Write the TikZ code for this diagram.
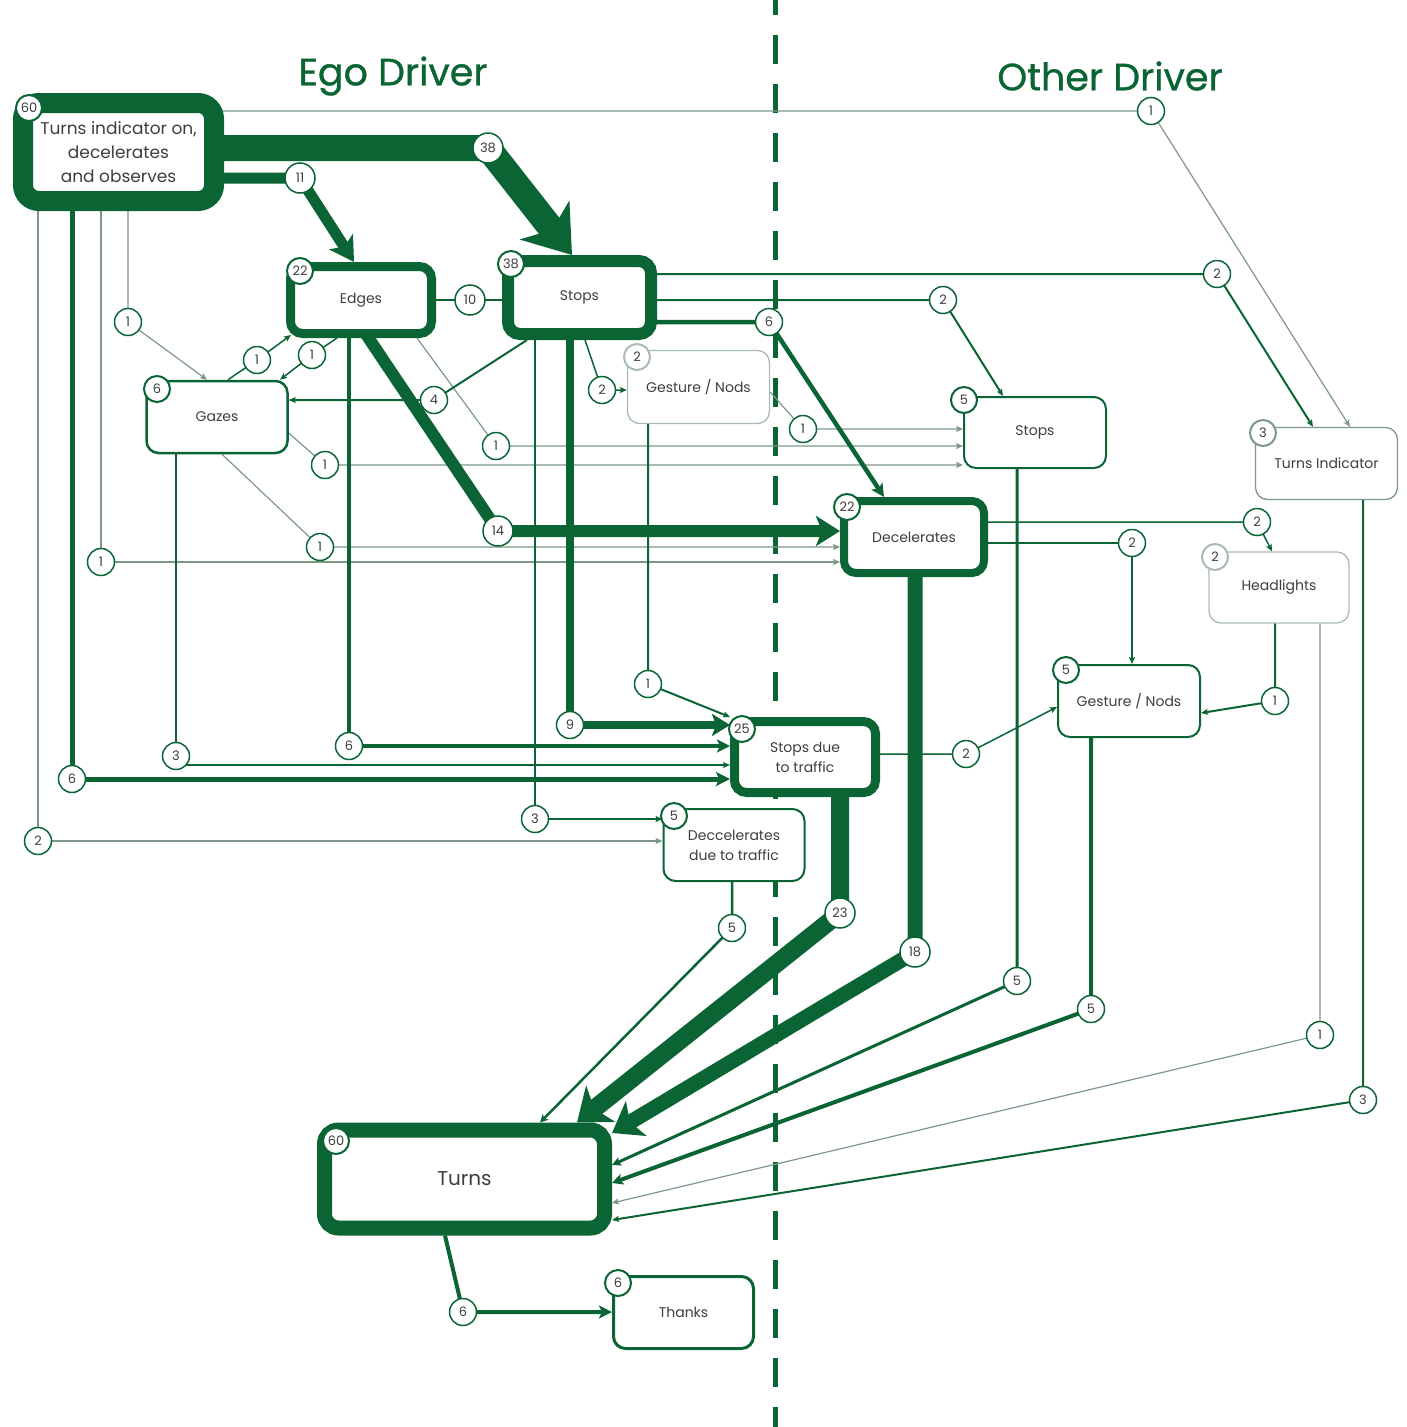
\documentclass[tikz,border=0pt]{standalone}
\usepackage{fontspec}
\setmainfont{Poppins}
\usetikzlibrary{arrows.meta}
\usetikzlibrary{calc,backgrounds}
\definecolor{ddgreen}{RGB}{10,100,52}
\definecolor{fgreen}{RGB}{125,152,135}
\definecolor{lgreen}{RGB}{170,188,176}
\definecolor{txtgray}{RGB}{62,62,62}
\newcommand\bxfont{\fontsize{14}{20}\selectfont}
\newcommand\cntfont{\fontsize{13}{14}\selectfont}

\begin{document}
\begin{tikzpicture}[x=1pt, y=-1pt,
  box/.style={draw=ddgreen, fill=white, rounded corners=12pt, line width=2pt, text=txtgray, align=center, font=\bxfont, inner sep=0pt},
  lightbox/.style={box, draw=lgreen, line width=1.3pt},
  cnt/.style={circle, draw=ddgreen, fill=white, line width=1.5pt, minimum size=27pt, inner sep=0pt, text=txtgray, font=\cntfont},
  cntw/.style={cnt, minimum size=30pt},
  badge/.style={cnt, minimum size=26pt, line width=2pt},
  flow/.style={draw=ddgreen, line width=#1pt, line join=round},
  faint/.style={draw=fgreen, line width=1.2pt},
  tip/.style n args={3}{-{Stealth[length=#1pt,width=#2pt,inset=#3pt]}},
  stip/.style={tip={7}{6}{1.5}},
  title/.style={text=ddgreen, font=\fontsize{38}{40}\selectfont\addfontfeature{FakeBold=0.8}}
]
\useasboundingbox (0,0) rectangle (1407,1427);

% titles
\node[title] (egotitle) at (393,76) {Ego Driver};
\node[title] (othertitle) at (1110,76) {Other Driver};

% boxes
\node[box, line width=20pt, rounded corners=16pt, minimum width=191pt, minimum height=98pt, font=\fontsize{17}{24}\selectfont] (tio) at (118.5,152) {Turns indicator on,\\decelerates\\and observes};
\node[box, line width=9pt, minimum width=141pt, minimum height=67pt] (edges) at (361,300) {Edges};
\node[box, line width=12pt, minimum width=143pt, minimum height=73pt] (stops) at (579.5,297.5) {Stops};
\node[lightbox, minimum width=142pt, minimum height=73pt] (gnego) at (698.5,387) {Gesture / Nods};
\node[box, line width=2.5pt, minimum width=141pt, minimum height=72pt] (gazes) at (217,417) {Gazes};
\node[box, minimum width=142pt, minimum height=71pt] (stopso) at (1035,432.5) {Stops};
\node[lightbox, draw=fgreen, minimum width=142pt, minimum height=72pt] (ti) at (1326.5,463.5) {Turns Indicator};
\node[box, line width=8pt, minimum width=140pt, minimum height=72pt] (decel) at (914,537) {Decelerates};
\node[lightbox, minimum width=140pt, minimum height=71pt] (hl) at (1279,587.5) {Headlights};
\node[box, minimum width=142pt, minimum height=72pt] (gno) at (1129,701) {Gesture / Nods};
\node[box, line width=9pt, minimum width=141pt, minimum height=71pt] (sdt) at (805,757) {Stops due\\to traffic};
\node[box, minimum width=141pt, minimum height=72pt] (dect) at (734,845) {Deccelerates\\due to traffic};
\node[box, line width=15pt, rounded corners=14pt, minimum width=280pt, minimum height=98pt, font=\fontsize{20}{24}\selectfont] (turns) at (464.5,1179) {Turns};
\node[box, line width=3pt, minimum width=140pt, minimum height=72pt] (thanks) at (683.5,1312.5) {Thanks};

% badges
\node[badge] (b-tio) at (29,108) {60};
\node[badge] (b-edges) at (300,271) {22};
\node[badge] (b-stops) at (511,264) {38};
\node[badge, draw=lgreen] (b-gnego) at (637,357) {2};
\node[badge] (b-gazes) at (157,389) {6};
\node[badge] (b-stopso) at (964,400) {5};
\node[badge, draw=fgreen] (b-ti) at (1263,433) {3};
\node[badge] (b-decel) at (847,507) {22};
\node[badge, draw=lgreen] (b-hl) at (1215,557) {2};
\node[badge] (b-gno) at (1066,670) {5};
\node[badge] (b-sdt) at (742,729) {25};
\node[badge] (b-dect) at (674,816) {5};
\node[badge] (b-turns) at (336,1141) {60};
\node[badge] (b-thanks) at (618,1283) {6};

% counts on the flows
\node[cnt] (f1a) at (1151,111) {1};
\node[cntw] (f38) at (488,148) {38};
\node[cntw] (f11) at (300,178) {11};
\node[cnt] (f2a) at (38,841) {2};
\node[cnt] (f6a) at (72,779) {6};
\node[cnt] (f1b) at (101,562) {1};
\node[cnt] (f1c) at (128,322) {1};
\node[cntw] (f10) at (470,300) {10};
\node[cntw] (f14) at (498,531) {14};
\node[cnt] (f6b) at (349,746) {6};
\node[cnt] (f1d) at (496,446) {1};
\node[cnt] (f1e) at (312,355) {1};
\node[cnt] (f1f) at (257,360) {1};
\node[cnt] (f2b) at (1217,274) {2};
\node[cnt] (f2c) at (943,300) {2};
\node[cnt] (f6c) at (769,322) {6};
\node[cnt] (f4) at (434,400) {4};
\node[cnt] (f3a) at (535,819) {3};
\node[cnt] (f9) at (570,725) {9};
\node[cnt] (f2d) at (602,390) {2};
\node[cnt] (f1g) at (648,684) {1};
\node[cnt] (f1h) at (803,429) {1};
\node[cnt] (f3b) at (176,756) {3};
\node[cnt] (f1i) at (325,465) {1};
\node[cnt] (f1j) at (320,547) {1};
\node[cnt] (f5a) at (1017,981) {5};
\node[cnt] (f3c) at (1363,1100) {3};
\node[cnt] (f2e) at (1257,522) {2};
\node[cnt] (f2f) at (1132,543) {2};
\node[cntw] (f18) at (915,952) {18};
\node[cnt] (f1k) at (1275,701) {1};
\node[cnt] (f1l) at (1320,1035) {1};
\node[cnt] (f5b) at (1091,1009) {5};
\node[cnt] (f2g) at (966,754) {2};
\node[cntw] (f23) at (840,913) {23};
\node[cnt] (f5c) at (732,928) {5};
\node[cnt] (f6d) at (463,1312) {6};

\begin{scope}[on background layer]
% divider
\draw[ddgreen, line width=5pt, dash pattern=on 29pt off 20pt] (775,-14) -- (775,1440);

% thin flows
\draw[faint, stip] (tio.center |- f1a) -- (f1a.center) -- (ti.north -| 1350,0);
\draw[faint, stip] (tio.center -| f1c) -- (f1c.center) -- (gazes.north -| 207,0);
\draw[faint, stip] (tio.center -| f1b) -- (f1b.center) -- (f1b -| decel.west);
\draw[flow=1.6, draw=fgreen, stip] (tio.center -| f2a) -- (f2a.center) -- (f2a -| dect.west);
\draw[faint, stip] (edges.south -| 417,0) -- (f1d.center) -- (f1d -| stopso.west);
\draw[faint, stip] (gazes.east |- 0,433) -- (f1i.center) -- (f1i -| stopso.west);
\draw[faint, stip] (gazes.south -| 222,0) -- (f1j.center) -- (f1j -| decel.west);
\draw[faint, stip] (gnego.east |- 0,392) -- (f1h.center) -- (f1h -| stopso.west);
\draw[faint, stip] (hl.center -| f1l) -- (f1l.center) -- (turns.east |- 0,1203);
\draw[flow=1.5, stip] (edges.south -| 337,0) -- (f1e.center) -- (gazes.north -| 280,0);
\draw[flow=1.5, stip] (gazes.north -| 228,0) -- (f1f.center) -- ($(edges.south west)+(5,-3)$);

% medium flows
\draw[flow=2] (edges.center) -- (edges.center -| stops.center);
\draw[flow=2, stip] (stops.center |- f2b) -- (f2b.center) -- (ti.north -| 1313,0);
\draw[flow=2, stip] (stops.center |- f2c) -- (f2c.center) -- (stopso.north -| 1003,0);
\draw[flow=2, stip] (stops.south -| 527,0) -- (f4.center) -- (f4 -| gazes.east);
\draw[flow=2, stip] (stops.center -| f3a) -- (f3a.center) -- (f3a -| dect.west);
\draw[flow=1.5, stip] (stops.south -| 585,0) -- (f2d.center) -- (f2d -| gnego.west);
\draw[flow=2, stip] (gnego.center -| f1g) -- (f1g.center) -- (sdt.north west);
\draw[flow=2.5, stip] (gazes.center -| f3b) -- (f3b.center) -- (f3b.center |- 0,765) -- (0,765 -| sdt.west);
\draw[flow=1.5, stip] (decel.center |- f2e) -- (f2e.center) -- (hl.north -| 1272,0);
\draw[flow=2, stip] (decel.center |- f2f) -- (f2f.center) -- (gno.north -| f2f);
\draw[flow=2, stip] (hl.center -| f1k) -- (f1k.center) -- (gno.east |- 0,713);
\draw[flow=1.5, stip] (sdt.center |- f2g) -- (f2g.center) -- (gno.west |- 0,707);
\draw[flow=2, stip] (ti.center -| f3c) -- (f3c.center) -- (turns.east |- 0,1220);
\draw[flow=3, tip={9}{9}{2}] (stopso.center -| f5a) -- (f5a.center) -- (turns.east |- 0,1165);
\draw[flow=2.5, tip={8}{8}{2}] (dect.center -| f5c) -- (f5c.center) -- (turns.north -| 540,0);
\draw[flow=4, tip={11}{11}{2.5}] (gno.center -| f5b) -- (f5b.center) -- (turns.east |- 0,1183);
\draw[flow=4, tip={13}{13}{3}] (edges.center -| f6b) -- (f6b.center) -- (f6b -| sdt.west);
\draw[flow=4.5, tip={13}{13}{3}] (stops.center |- f6c) -- (f6c.center) -- (decel.north -| 884,0);
\draw[flow=5, tip={14}{14}{3}] (tio.center -| f6a) -- (f6a.center) -- (f6a -| sdt.west);
\draw[flow=4, tip={13}{13}{3}] (turns.south -| 445,0) -- (f6d.center) -- (f6d -| thanks.west);

% thick flows
\draw[flow=8, tip={18}{22}{4}] (stops.center -| f9) -- (f9.center) -- (f9 -| sdt.west);
\draw[flow=11, tip={24}{28}{6}] (tio.center |- f11) -- (f11.center) -- (edges.north -| 354,0);
\draw[flow=12, tip={24}{30}{6}] ($(edges.center)+(-18,0)$) -- (f14.center) -- (f14 -| decel.west);
\draw[flow=15, tip={28}{40}{7}] (decel.center -| f18) -- (f18.center) -- (turns.east |- 0,1133);
\draw[flow=18, tip={30}{46}{8}] (sdt.center -| f23) -- (f23.center) -- (turns.north -| 577,0);
\draw[flow=26, tip={44}{62}{12}] (tio.center |- f38) -- (f38.center) -- (stops.north -| 572,0);
\end{scope}
\end{tikzpicture}
\end{document}
